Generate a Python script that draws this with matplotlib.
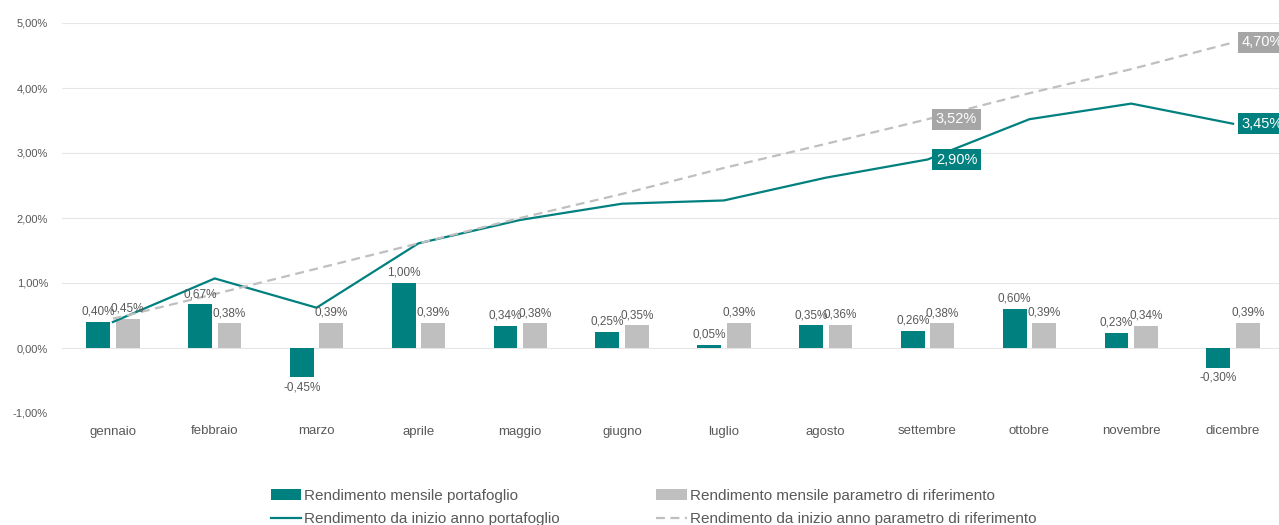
import matplotlib.pyplot as plt
import numpy as np
from matplotlib.ticker import FuncFormatter

# ── Data ────────────────────────────────────────────────────────────────────
MONTHS = ["gennaio", "febbraio", "marzo", "aprile", "maggio", "giugno",
          "luglio", "agosto", "settembre", "ottobre", "novembre", "dicembre"]
PORT_MONTHLY = [0.40, 0.67, -0.45, 1.00, 0.34, 0.25, 0.05, 0.35, 0.26, 0.60, 0.23, -0.30]
BENCH_MONTHLY = [0.45, 0.38, 0.39, 0.39, 0.38, 0.35, 0.39, 0.36, 0.38, 0.39, 0.34, 0.39]
PORT_YTD = [0.40, 1.07, 0.62, 1.61, 1.97, 2.22, 2.27, 2.62, 2.90, 3.52, 3.76, 3.45]
BENCH_YTD = [0.45, 0.83, 1.22, 1.61, 2.00, 2.37, 2.77, 3.14, 3.52, 3.92, 4.29, 4.70]
BOXED = [8, 11]  # months whose YTD values get a boxed label

TEAL = "#00807E"
GREY = "#BFBFBF"
TEXT = "#595959"
GRID = "#E6E6E6"
FONT = ["Liberation Sans", "DejaVu Sans"]


def pct(v):
    return f"{v:.2f}%".replace(".", ",")


plt.rcParams["font.family"] = FONT

fig = plt.figure(figsize=(12.79, 5.25), dpi=100)
ax = fig.add_axes([62 / 1279, 112 / 525, 1222 / 1279, 390 / 525])

x = np.arange(len(MONTHS))
w = 0.235
off = 0.145

bars_p = ax.bar(x - off, PORT_MONTHLY, w, color=TEAL, zorder=2,
                label="Rendimento mensile portafoglio")
bars_b = ax.bar(x + off, BENCH_MONTHLY, w, color=GREY, zorder=2,
                label="Rendimento mensile parametro di riferimento")

(line_p,) = ax.plot(x, PORT_YTD, color=TEAL, lw=1.6, zorder=3,
                    label="Rendimento da inizio anno portafoglio")
(line_b,) = ax.plot(x, BENCH_YTD, color=GREY, lw=1.6, ls=(0, (4, 2.5)), zorder=3,
                    label="Rendimento da inizio anno parametro di riferimento")

# bar labels
for bars, vals in [(bars_p, PORT_MONTHLY), (bars_b, BENCH_MONTHLY)]:
    for b, v in zip(bars, vals):
        cx = b.get_x() + b.get_width() / 2
        if v >= 0:
            ax.annotate(pct(v), (cx, v), xytext=(0, 3), textcoords="offset points",
                        ha="center", va="bottom", fontsize=8.5, color=TEXT, zorder=4)
        else:
            ax.annotate(pct(v), (cx, v), xytext=(0, -3), textcoords="offset points",
                        ha="center", va="top", fontsize=8.5, color=TEXT, zorder=4)

# boxed YTD labels
for i in BOXED:
    for vals, col in [(PORT_YTD, TEAL), (BENCH_YTD, "#A6A6A6")]:
        ax.annotate(pct(vals[i]), (x[i], vals[i]), xytext=(6, 0),
                    textcoords="offset points", ha="left", va="center",
                    fontsize=10.5, color="white", zorder=5, annotation_clip=False,
                    bbox=dict(boxstyle="square,pad=0.25", fc=col, ec="none"))

ax.set_xlim(-0.5, len(MONTHS) - 0.5)
ax.set_ylim(-1, 5)
ax.set_yticks(np.arange(-1, 5.1, 1))
ax.yaxis.set_major_formatter(FuncFormatter(lambda v, _: pct(v)))
ax.set_xticks(x, MONTHS)
ax.tick_params(axis="both", length=0, colors=TEXT)
ax.tick_params(axis="y", labelsize=8, pad=10)
ax.tick_params(axis="x", labelsize=9.5, pad=9)
ax.grid(axis="y", color=GRID, lw=0.8, zorder=0)
ax.set_axisbelow(True)
for s in ax.spines.values():
    s.set_visible(False)

fig.legend(handles=[bars_p, line_p, bars_b, line_b], ncol=2,
           loc="upper center", bbox_to_anchor=(0.511, 0.095),
           frameon=False, fontsize=11, labelcolor=TEXT,
           handlelength=2.0, handletextpad=0.2, columnspacing=6.3,
           labelspacing=0.6)

fig.savefig("out.png", dpi=100)
